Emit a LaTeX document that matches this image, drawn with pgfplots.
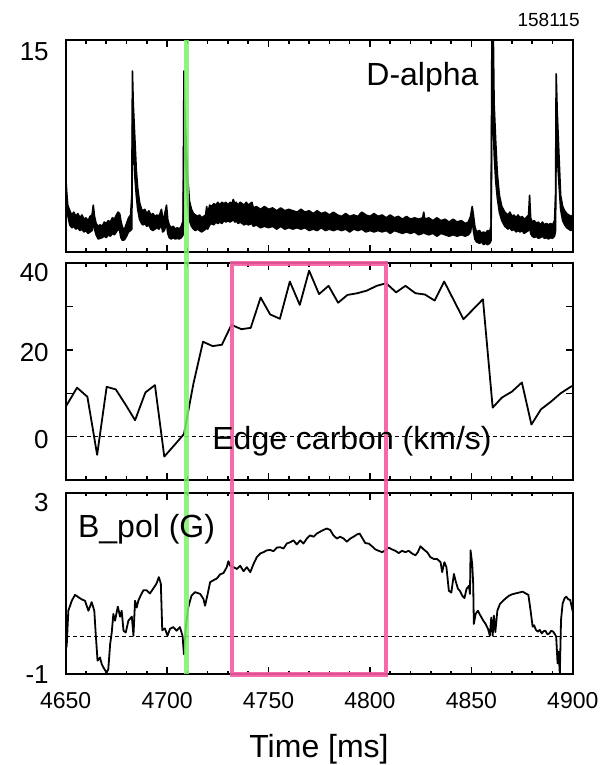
\documentclass[border=0pt]{standalone}
\usepackage{fontspec}
\setmainfont{Liberation Sans}
\usepackage{pgfplots}
\pgfplotsset{compat=1.18}
\usepgfplotslibrary{fillbetween}

\definecolor{markgreen}{RGB}{125,240,105}
\definecolor{markpink}{RGB}{245,90,160}

\pgfplotsset{
  panel/.style={
    scale only axis, width=253.55pt, anchor=south west,
    xmin=4650, xmax=4900,
    xtick={4650,4700,...,4900},
    minor xtick={4660,4670,...,4890},
    axis line style={line width=1pt},
    major tick length=3.5pt, minor tick length=1.8pt,
    tick style={line width=0.8pt, black},
    /pgf/number format/assume math mode=true,
    /pgf/number format/1000 sep={},
    yticklabel style={font=\fontsize{13}{13}\selectfont, inner xsep=0pt, xshift=-8.3pt},
    xticklabel style={font=\fontsize{11.5}{12}\selectfont, yshift=-5.5pt},
  },
  trace/.style={black, no marks, line width=0.9pt, line join=round},
}

\begin{document}
\begin{tikzpicture}

% ---------- D-alpha ----------
\begin{axis}[panel, name=p1, at={(32.85pt,256.65pt)}, height=105.85pt,
  ymin=0, ymax=15, xticklabels={}, ytick={15}, ytick style={draw=none},
  yticklabel style={yshift=-5.85pt}]
\addplot[trace, name path=dup, line width=0.8pt] coordinates {
(4650.0,5.4)(4650.5,4.2)(4651,3.3)(4652,2.9)(4653,2.6)(4654,2.8)(4655,2.5)(4656,2.7)
(4657,2.4)(4658,2.6)(4659,2.3)(4660,2.4)(4661,2.2)(4662,2.5)(4663,2.6)(4663.6,3.3)
(4664.2,2.5)(4665,2.0)(4666,1.8)(4667,1.9)(4668,1.8)(4669,2.1)(4670,2.0)(4671,2.2)
(4672,2.1)(4673,2.4)(4674,2.3)(4675,2.6)(4675.8,2.8)(4676.6,2.7)(4677.2,2.2)(4678,1.7)
(4679,1.6)(4680,2.0)(4681,2.4)(4682,2.6)(4682.6,4.0)(4682.9,12.8)(4683.3,10.5)(4684,8.3)
(4684.8,5.8)(4685.5,4.5)(4686.4,3.5)(4687.4,3.0)(4688,2.9)(4689,3.0)(4690,2.7)(4691,2.9)
(4692,2.6)(4693,2.7)(4694,2.5)(4695,2.6)(4696,2.5)(4697.2,3.0)(4697.8,2.4)(4698.6,2.5)
(4699.7,3.3)(4700.3,2.3)(4701,1.9)(4702,1.7)(4703,1.8)(4704,1.6)(4705,1.7)(4706,1.6)
(4707,1.8)(4707.9,2.2)(4708.3,12.8)(4708.8,10.0)(4709.5,7.5)(4710.2,5.2)(4711,3.6)(4712,3.0)
(4713,2.7)(4714,2.6)(4715,2.5)(4716,2.6)(4717,2.4)(4718,2.5)(4719,2.6)(4719.5,3.2)
(4720,2.7)(4721,3.3)(4722,3.2)(4723,3.4)(4724,3.3)(4725,3.5)(4726,3.3)(4727,3.5)
(4728,3.4)(4729,3.5)(4730,3.3)(4731,3.5)(4732,3.4)(4732.6,3.7)(4733.4,3.4)(4734,3.5)
(4735,3.3)(4736,3.5)(4737,3.4)(4738,3.3)(4739,3.5)(4740,3.3)(4741.8,3.5)(4742.5,3.1)
(4744,3.2)(4746,3.0)(4748,3.2)(4750,3.0)(4752,3.1)(4754,2.9)(4756,3.1)(4758,2.9)
(4760,3.0)(4762,2.9)(4764,2.8)(4766,3.0)(4768,2.8)(4770,2.9)(4772,2.7)(4774,2.9)
(4776,2.7)(4778,2.8)(4780,2.6)(4782,2.8)(4784,2.6)(4786,2.5)(4788,2.7)(4790,2.5)
(4792,2.6)(4794,2.5)(4796,2.8)(4798,2.6)(4800,2.5)(4802,2.7)(4804,2.5)(4806,2.6)
(4808,2.4)(4810,2.6)(4812,2.4)(4814,2.5)(4816,2.3)(4818,2.5)(4820,2.3)(4822,2.4)
(4824,2.3)(4826,2.4)(4826.5,2.8)(4827,2.3)(4829,2.4)(4831,2.2)(4833,2.4)(4835,2.2)
(4837,2.3)(4839,2.1)(4841,2.3)(4843,2.1)(4845,2.2)(4847,2.0)(4848.5,2.1)(4849.6,2.5)
(4850.4,3.2)(4851,2.6)(4851.7,1.8)(4852.5,1.4)(4854,1.5)(4855,1.3)(4856,1.4)(4857,1.3)
(4858,1.5)(4859,1.4)(4859.7,1.8)(4860.2,18)(4860.6,18)(4861.2,10.5)(4862,7.8)(4862.8,5.5)
(4863.8,4.0)(4865,3.2)(4866.5,2.8)(4868,2.6)(4869,2.8)(4870,2.5)(4871,2.6)(4872,2.4)
(4873,2.6)(4874,2.4)(4875,2.5)(4876,2.3)(4877,2.4)(4878.2,2.6)(4878.7,4.0)(4879.2,2.4)
(4880,2.1)(4881,2.2)(4882,2.0)(4883,2.1)(4884,1.9)(4885,2.1)(4886,1.9)(4887,2.0)
(4888,1.9)(4889,2.0)(4890,1.9)(4891,2.2)(4891.5,4.0)(4891.8,12.6)(4892.3,10.0)(4893.1,7.1)
(4894,4.0)(4895,3.2)(4896,2.9)(4897,2.7)(4898,2.6)(4899,2.5)(4900,2.6)
};
\addplot[trace, name path=dlo, line width=0.8pt] coordinates {
(4650.0,5.0)(4650.5,3.6)(4651,2.6)(4652,1.9)(4653,1.7)(4654,1.8)(4655,1.6)(4656,1.7)
(4657,1.5)(4658,1.6)(4659,1.4)(4660,1.5)(4661,1.3)(4662,1.4)(4663,1.5)(4663.6,2.2)
(4664.2,1.6)(4665,1.2)(4666,0.9)(4667,0.95)(4668,1.0)(4669,1.1)(4670,1.0)(4671,1.2)
(4672,1.1)(4673,1.3)(4674,1.2)(4675,1.4)(4675.8,1.6)(4676.6,1.5)(4677.2,1.0)(4678,0.8)
(4679,0.85)(4680,1.1)(4681,1.4)(4682,1.5)(4682.6,1.6)(4682.9,9.0)(4683.3,8.0)(4684,5.5)
(4684.8,4.0)(4685.5,3.0)(4686.4,2.3)(4687.4,2.0)(4688,1.9)(4689,2.0)(4690,1.8)(4691,1.9)
(4692,1.6)(4693,1.5)(4694,1.6)(4695,1.7)(4696,1.6)(4697.2,1.9)(4697.8,1.4)(4698.6,1.5)
(4699.7,2.0)(4700.3,1.3)(4701,1.0)(4702,0.9)(4703,1.0)(4704,0.9)(4705,0.95)(4706,0.9)
(4707,1.0)(4707.9,1.2)(4708.3,9.0)(4708.8,7.5)(4709.5,5.0)(4710.2,3.3)(4711,2.2)(4712,1.8)
(4713,1.6)(4714,1.5)(4715,1.6)(4716,1.5)(4717,1.4)(4718,1.5)(4719,1.6)(4719.5,1.9)
(4720,1.6)(4721,1.9)(4722,2.0)(4723,1.9)(4724,2.1)(4725,2.0)(4726,2.1)(4727,2.0)
(4728,2.2)(4729,2.1)(4730,2.2)(4731,2.1)(4732,2.2)(4732.6,2.3)(4733.4,2.1)(4734,2.2)
(4735,2.0)(4736,2.1)(4737,2.0)(4738,1.9)(4739,2.0)(4740,1.9)(4741.8,2.0)(4742.5,1.8)
(4744,1.9)(4746,1.7)(4748,1.8)(4750,1.7)(4752,1.8)(4754,1.6)(4756,1.8)(4758,1.6)
(4760,1.7)(4762,1.6)(4764,1.7)(4766,1.6)(4768,1.7)(4770,1.5)(4772,1.6)(4774,1.5)
(4776,1.7)(4778,1.5)(4780,1.6)(4782,1.5)(4784,1.6)(4786,1.5)(4788,1.6)(4790,1.4)
(4792,1.6)(4794,1.5)(4796,1.6)(4798,1.4)(4800,1.5)(4802,1.4)(4804,1.5)(4806,1.4)
(4808,1.5)(4810,1.3)(4812,1.5)(4814,1.4)(4816,1.3)(4818,1.4)(4820,1.3)(4822,1.4)
(4824,1.2)(4826,1.3)(4826.5,1.5)(4827,1.3)(4829,1.2)(4831,1.3)(4833,1.1)(4835,1.3)
(4837,1.2)(4839,1.1)(4841,1.2)(4843,1.1)(4845,1.2)(4847,1.1)(4848.5,1.2)(4849.6,1.4)
(4850.4,2.2)(4851,1.5)(4851.7,0.9)(4852.5,0.7)(4854,0.6)(4855,0.7)(4856,0.5)(4857,0.6)
(4858,0.5)(4859,0.6)(4859.7,0.8)(4860.2,12)(4860.6,12)(4861.2,7.0)(4862,5.0)(4862.8,3.8)
(4863.8,2.8)(4865,2.2)(4866.5,1.8)(4868,1.6)(4869,1.7)(4870,1.5)(4871,1.6)(4872,1.4)
(4873,1.5)(4874,1.4)(4875,1.5)(4876,1.3)(4877,1.4)(4878.2,1.5)(4878.7,2.6)(4879.2,1.3)
(4880,1.1)(4881,1.0)(4882,1.1)(4883,0.95)(4884,1.0)(4885,1.1)(4886,0.95)(4887,1.0)
(4888,0.9)(4889,1.0)(4890,0.95)(4891,1.1)(4891.5,1.5)(4891.8,8.0)(4892.3,7.0)(4893.1,5.0)
(4894,3.0)(4895,2.2)(4896,1.9)(4897,1.7)(4898,1.6)(4899,1.5)(4900,1.6)
};
\addplot[black, draw=none] fill between[of=dup and dlo];
\coordinate (gtop) at (axis cs:4709.5,15);
\end{axis}

% ---------- Edge carbon ----------
\begin{axis}[panel, name=p2, at={(32.85pt,142.5pt)}, height=108.35pt,
  ymin=-10, ymax=40, xticklabels={},
  ytick={0,10,20,30}, yticklabels={0,,20,},
  extra y ticks={40},
  extra y tick style={grid=none, yticklabel style={yshift=-3.2pt}},
  yticklabel style={yshift=-1.5pt}]
\addplot[trace, line width=0.5pt, dash pattern=on 2pt off 1.5pt] coordinates {(4650,0)(4900,0)};
\addplot[trace] coordinates {
(4650,6.9)(4655.6,11.3)(4660.7,9.2)(4665.5,-4.2)(4670.2,11.5)(4674.7,10.9)(4679.5,7.4)
(4684.2,3.8)(4689.3,10.2)(4694,11.9)(4698.6,-4.6)(4703.5,-2.0)(4708.3,0.6)(4713,12.3)
(4717.7,21.9)(4722.4,20.9)(4727,21.2)(4731.7,25.8)(4736.6,24.8)(4741.2,25.1)(4746.1,32.1)
(4750.8,28.2)(4755.6,27.2)(4760.5,35.8)(4765.4,30.4)(4770,38.3)(4774.9,32.9)(4779.6,34.8)
(4784.3,30.9)(4788.9,32.7)(4793.8,33.1)(4798.5,33.7)(4803.3,34.8)(4808,35.4)(4812.9,33.3)
(4817.5,34.8)(4822.4,33.1)(4827.1,32.8)(4831.9,31.4)(4836.6,35.8)(4841.3,31.5)(4846.1,27.1)
(4850.9,29.4)(4855.7,31.7)(4860.5,6.7)(4865,9.0)(4870,10.4)(4874.9,12.5)(4879.6,2.8)
(4884.3,6.3)(4889.3,8.1)(4894,10.0)(4899.6,11.7)
};
\coordinate (ptl) at (axis cs:4732,40);
\end{axis}

% ---------- B_pol ----------
\begin{axis}[panel, name=p3, at={(32.85pt,45.35pt)}, height=90.8pt,
  ymin=-1, ymax=3, ytick={-1}, ytick style={draw=none},
  extra y ticks={3},
  extra y tick style={grid=none, ytick style={draw=none}, yticklabel style={yshift=-5pt}}]
\addplot[trace, line width=0.5pt, dash pattern=on 2pt off 1.5pt] coordinates {(4650,-0.16)(4900,-0.16)};
\addplot[trace] coordinates {
(4650.0,-0.45)(4650.5,-0.37)(4651.3,0.40)(4653.0,0.62)(4654.6,0.75)(4656.2,0.70)(4657.9,0.65)
(4659.5,0.62)(4661.2,0.40)(4662.8,0.59)(4664.1,0.40)(4664.8,-0.11)(4665.7,-0.70)(4666.9,-0.63)
(4667.8,-0.78)(4669.1,-0.89)(4670.2,-0.96)(4671.0,-0.89)(4671.9,-0.34)(4672.7,-0.08)(4673.5,0.33)
(4674.3,0.18)(4675.7,0.49)(4676.8,0.27)(4677.6,0.40)(4678.5,-0.04)(4679.6,-0.08)(4680.9,0.18)
(4682.6,0.27)(4683.4,-0.15)(4684.2,0.62)(4685.0,0.47)(4685.8,0.62)(4687.1,0.75)(4688.3,0.85)
(4689.9,0.85)(4691.5,0.78)(4693.2,0.89)(4694.8,1.00)(4695.9,1.14)(4696.9,1.00)(4697.6,-0.03)
(4698.9,0.01)(4700.2,-0.15)(4701.4,0.00)(4703.0,0.04)(4704.7,-0.04)(4706.3,0.04)(4707.6,-0.15)
(4708.3,-0.56)(4709.1,0.00)(4710.4,0.47)(4712.0,0.73)(4713.8,0.81)(4716.3,0.77)(4717.9,0.66)
(4718.7,0.51)(4720.0,0.77)(4721.2,1.03)(4722.8,1.07)(4724.5,1.11)(4726.1,1.20)(4727.8,1.23)
(4729.4,1.36)(4730.2,1.49)(4731.1,1.39)(4732.7,1.36)(4734.4,1.32)(4736.0,1.39)(4737.7,1.27)
(4739.3,1.36)(4741.0,1.25)(4742.6,1.43)(4744.2,1.58)(4745.9,1.66)(4747.5,1.69)(4749.2,1.73)
(4750.8,1.74)(4752.4,1.71)(4754.1,1.79)(4755.7,1.80)(4757.4,1.77)(4759.0,1.88)(4760.7,1.91)
(4762.3,1.95)(4763.9,1.86)(4765.6,1.95)(4767.2,1.88)(4768.9,1.99)(4770.5,2.06)(4772.2,2.03)
(4773.8,2.10)(4775.4,2.14)(4777.1,2.18)(4778.7,2.21)(4780.4,2.18)(4782.0,2.06)(4783.7,1.99)
(4785.3,2.03)(4787.0,1.99)(4788.6,1.92)(4790.3,1.99)(4791.9,2.03)(4793.6,2.08)(4794.9,2.10)
(4796.1,2.01)(4797.7,1.89)(4799.4,1.88)(4801.0,1.82)(4802.7,1.75)(4804.3,1.72)(4806.0,1.69)
(4807.6,1.73)(4809.2,1.79)(4810.9,1.75)(4812.5,1.72)(4814.2,1.67)(4815.8,1.72)(4817.5,1.69)
(4819.1,1.72)(4820.8,1.66)(4822.4,1.62)(4823.6,1.69)(4824.9,1.82)(4826.5,1.75)(4828.2,1.69)
(4829.8,1.58)(4831.5,1.54)(4833.1,1.54)(4834.8,1.47)(4835.6,1.25)(4836.7,1.47)(4837.7,1.36)
(4838.9,0.84)(4840.1,0.80)(4841.4,1.21)(4842.2,1.06)(4843.4,0.88)(4844.3,0.84)(4845.5,0.73)
(4846.6,0.68)(4847.6,0.88)(4848.8,0.95)(4849.3,0.77)(4849.6,1.73)(4850.4,1.43)(4850.9,0.99)
(4851.2,0.11)(4852.1,0.33)(4853.2,0.40)(4854.5,0.29)(4855.9,0.18)(4857.0,0.11)(4858.2,0.00)
(4859.1,-0.15)(4859.8,0.25)(4860.5,-0.15)(4861.1,0.29)(4861.8,-0.07)(4862.8,0.40)(4864.1,0.55)
(4866.1,0.64)(4868.5,0.73)(4870.0,0.76)(4871.6,0.78)(4873.5,0.80)(4875.3,0.82)(4876.8,0.78)
(4878.1,0.75)(4879.2,0.40)(4880.2,0.05)(4880.9,0.08)(4881.8,-0.02)(4882.8,-0.06)(4883.7,-0.02)
(4884.7,-0.10)(4885.6,-0.05)(4886.5,-0.04)(4887.5,-0.12)(4888.4,-0.10)(4889.4,-0.04)(4890.3,-0.06)
(4891.2,-0.12)(4891.8,-0.17)(4892.5,-0.76)(4893.0,-0.50)(4893.6,-1.00)(4894.2,0.20)(4895.0,0.56)
(4896.0,0.68)(4896.8,0.71)(4897.8,0.65)(4898.7,0.64)(4899.4,0.50)(4900.0,0.38)
};
\coordinate (gbot) at (axis cs:4709.5,-1);
\coordinate (pbl) at (axis cs:4732,-1);
\coordinate (pbr) at (axis cs:4808,-1);
\end{axis}

% markers spanning the panels
\draw[markpink, line width=2.3pt, opacity=0.9] (pbl) rectangle (ptl -| pbr);
\draw[markgreen, line width=2.6pt, opacity=0.85] (gtop) -- (gbot);

% texts
\node[anchor=base east, inner sep=0pt, font=\fontsize{9.5}{9.5}\selectfont] at (290pt,369pt) {158115};
\node[anchor=base west, inner sep=0pt, font=\fontsize{16}{16}\selectfont] at (183pt,339.5pt) {D-alpha};
\node[anchor=base, inner sep=0pt, font=\fontsize{16}{16}\selectfont] at (176pt,157.5pt) {Edge carbon (km/s)};
\node[anchor=base west, inner sep=0pt, font=\fontsize{16}{16}\selectfont] at (38.85pt,113.5pt) {B\_pol (G)};
\node[anchor=base, inner sep=0pt, font=\fontsize{16}{16}\selectfont] at (159.5pt,3.6pt) {Time [ms]};

\path (0,0) rectangle (297pt,382.5pt);
\end{tikzpicture}
\end{document}
